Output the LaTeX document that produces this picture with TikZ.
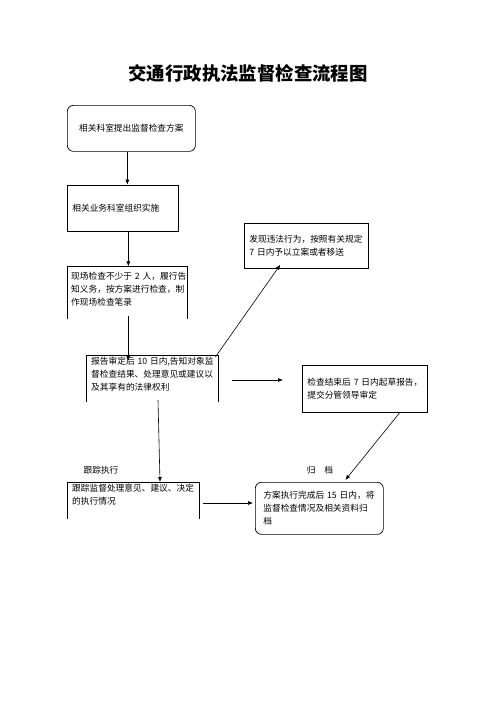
\documentclass[tikz,border=0pt]{standalone}
\usepackage{fontspec}
\usepackage{tikz}
\usetikzlibrary{arrows.meta,positioning,calc}
\newfontfamily\cjkfont{Noto Sans CJK SC}

\begin{document}
\begin{tikzpicture}[
  x=1pt, y=-1pt,
  font=\cjkfont\fontsize{8.7}{13.2}\selectfont,
  openside/.style={line width=0.7pt},
  cbox/.style={draw, line width=0.7pt, anchor=north west, align=left,
    inner xsep=5pt, inner ysep=2pt, text width=#1},
  obox/.style={anchor=north west, align=left, inner xsep=5pt,
    inner ysep=2pt, text width=#1},
  arr/.style={-{Latex[length=5pt,width=4pt]}, line width=0.6pt}
]
\path[use as bounding box, fill=white] (0,0) rectangle (496,702);
\node[font=\cjkfont\bfseries\fontsize{18.4}{22}\selectfont] (title) at (248,73) {交通行政执法监督检查流程图};
% left column
\node[cbox=118pt, rounded corners=6pt, align=center, minimum height=46pt] (plan) at (67,105) {相关科室提出监督检查方案};
\node[cbox=101pt, minimum height=46pt, below=33pt of plan.south west, anchor=north west] (org) {相关业务科室组织实施};
\node[obox=112pt, inner xsep=4pt, inner ysep=5.5pt, below=35pt of org.south west, anchor=north west] (survey) {现场检查不少于~2~人，履行告\\知义务，按方案进行检查，制\\作现场检查笔录};
\node[cbox=114pt, minimum height=45pt] (found) at (244,223) {发现违法行为，按照有关规定\\7~日内予以立案或者移送};
\node[obox=122pt] (notify) at (86,355) {报告审定后~10~日内,告知对象监\\督检查结果、处理意见或建议以\\及其享有的法律权利};
\node[cbox=115pt, minimum height=47pt] (draft) at (302,365) {检查结束后~7~日内起草报告，\\提交分管领导审定};
% bottom row
\node (tracklbl) at (101,470) {跟踪执行};
\node (archlbl) at (320,470) {归\hspace{1em}档};
\node[obox=122pt] (track) at (67,482) {跟踪监督处理意见、建议、决定\\的执行情况};
\node[cbox=112pt, inner xsep=8pt, rounded corners=6pt, minimum height=52pt] (archive) at (255,482) {方案执行完成后~15~日内，将\\监督检查情况及相关资料归\\档};
% boxes open at the bottom
\draw[openside] ($(survey.north west)+(0,53)$) -- (survey.north west) -- (survey.north east) -- ++(0,53);
\draw[openside] ($(notify.north west)+(0,47)$) -- (notify.north west) -- (notify.north east) -- ++(0,47);
\draw[openside] ($(track.north west)+(0,37)$) -- (track.north west) -- (track.north east) -- ++(0,37);
% connectors
\draw[arr] ([xshift=-4pt]plan.south) -- ([xshift=-4pt]plan.south |- org.north);
\draw[arr] ([xshift=5.5pt]org.south) -- ([xshift=5.5pt]org.south |- survey.north);
\draw[arr] ($(survey.north)+(1,50)$) -- ($(survey.north |- notify.north)+(1,6)$);
\draw[arr] ($(notify.north east)+(-3,2)$) -- ($(found.south)+(-26,-4)$);
\draw[arr] ($(notify.north east)+(14,25)$) -- ($(draft.north west)+(-19,15)$);
\draw[arr] ($(notify.north west)+(72,45)$) -- ($(track.north west)+(93,0)$);
\draw[arr] ($(track.north east)+(4,21)$) -- ($(archive.north west)+(-2,21)$);
\draw[arr] ($(draft.south east)+(-28,0)$) -- ($(archive.north)+(26,-2)$);
\end{tikzpicture}
\end{document}
